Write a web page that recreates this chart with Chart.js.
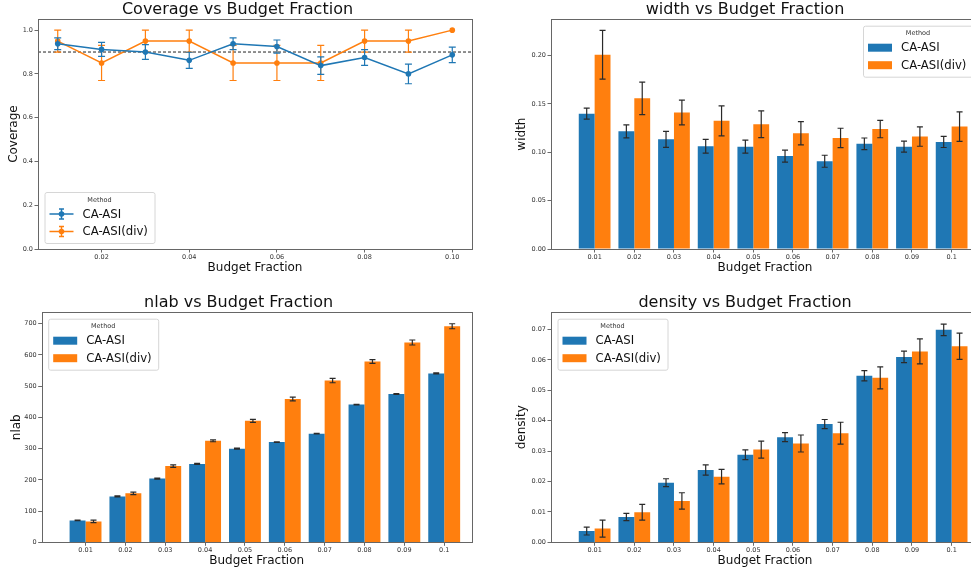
<!DOCTYPE html>
<html>
<head>
<meta charset="utf-8">
<script src="https://cdn.jsdelivr.net/npm/chart.js@4.4.0/dist/chart.umd.min.js"></script>
<style>
html, body { margin: 0; padding: 0; background: #fff; overflow: hidden; width: 971px; height: 573px; }
canvas { position: absolute; }
</style>
</head>
<body>
<canvas id="cov" width="485" height="286" style="left:0;top:0"></canvas>
<canvas id="wid" width="500" height="286" style="left:485px;top:0"></canvas>
<canvas id="nlab" width="485" height="287" style="left:0;top:286px"></canvas>
<canvas id="dens" width="500" height="287" style="left:485px;top:286px"></canvas>
<script>
// budget fractions (x) and their category labels
const fractions = [0.01, 0.02, 0.03, 0.04, 0.05, 0.06, 0.07, 0.08, 0.09, 0.10];
const fractionLabels = ['0.01', '0.02', '0.03', '0.04', '0.05', '0.06', '0.07', '0.08', '0.09', '0.1'];
const methods = ['CA-ASI', 'CA-ASI(div)'];
const colors = ['#1f77b4', '#ff7f0e'];

// coverage (mean, +/- error)
const coverageAsi    = [0.938, 0.912, 0.900, 0.862, 0.938, 0.925, 0.838, 0.875, 0.800, 0.887];
const coverageAsiErr = [0.027, 0.032, 0.034, 0.037, 0.027, 0.030, 0.040, 0.036, 0.045, 0.035];
const coverageDiv    = [0.95, 0.85, 0.95, 0.95, 0.85, 0.85, 0.85, 0.95, 0.95, 1.00];
const coverageDivErr = [0.05, 0.08, 0.05, 0.05, 0.08, 0.08, 0.08, 0.05, 0.05, 0.00];
const coverageTarget = 0.9;
const coverageXTicks = [0.02, 0.04, 0.06, 0.08, 0.10];
const coverageYTicks = [0, 0.2, 0.4, 0.6, 0.8, 1.0];

// width
const widthAsi    = [0.1399, 0.1216, 0.1133, 0.1062, 0.1058, 0.0960, 0.0907, 0.1087, 0.1058, 0.1107];
const widthAsiErr = [0.0057, 0.0067, 0.0083, 0.0072, 0.0067, 0.0062, 0.0062, 0.0060, 0.0057, 0.0058];
const widthDiv    = [0.2007, 0.1557, 0.1410, 0.1325, 0.1289, 0.1196, 0.1148, 0.1240, 0.1162, 0.1265];
const widthDivErr = [0.0252, 0.0168, 0.0128, 0.0155, 0.0138, 0.0120, 0.0100, 0.0090, 0.0100, 0.0152];
const widthYTicks = [0, 0.05, 0.10, 0.15, 0.20];

// nlab
const nlabAsi    = [70, 147, 204, 251, 300, 321, 348, 441, 475, 541];
const nlabAsiErr = [1, 1.5, 1.5, 1.5, 1.5, 1, 1, 1, 1, 1.5];
const nlabDiv    = [67, 157, 244, 325, 389, 459, 518, 579, 640, 692];
const nlabDivErr = [4, 4, 4, 3, 5, 6, 7, 6, 8, 8];
const nlabYTicks = [0, 100, 200, 300, 400, 500, 600, 700];

// density
const densityAsi    = [0.0037, 0.0083, 0.0196, 0.0238, 0.0288, 0.0346, 0.0389, 0.0548, 0.0610, 0.0699];
const densityAsiErr = [0.0013, 0.0012, 0.0013, 0.0017, 0.0016, 0.0015, 0.0015, 0.0017, 0.0019, 0.0019];
const densityDiv    = [0.0045, 0.0099, 0.0136, 0.0216, 0.0305, 0.0325, 0.0359, 0.0541, 0.0628, 0.0645];
const densityDivErr = [0.0028, 0.0026, 0.0027, 0.0024, 0.0028, 0.0028, 0.0036, 0.0036, 0.0041, 0.0043];
const densityYTicks = [0, 0.01, 0.02, 0.03, 0.04, 0.05, 0.06, 0.07];

const FONT = '"DejaVu Sans", sans-serif';
const tickFont = { family: FONT, size: 6.5 };
const axisFont = { family: FONT, size: 12 };
const titleFont = { family: FONT, size: 16, weight: 'normal' };

// error bars drawn through the y scale
const errorBars = {
    id: 'errorBars',
    afterDatasetDraw(chart, args) {
        const ds = chart.data.datasets[args.index];
        if (!ds.err) return;
        const ctx = chart.ctx, y = chart.scales.y;
        const cap = ds.capSize || 3;
        ctx.save();
        ctx.strokeStyle = ds.errColor || '#2a2a2a';
        ctx.lineWidth = 1.2;
        args.meta.data.forEach((el, i) => {
            const v = ds.data[i].y, e = ds.err[i];
            if (!e) return;
            const top = y.getPixelForValue(v + e), bot = y.getPixelForValue(v - e);
            ctx.beginPath();
            ctx.moveTo(el.x, top); ctx.lineTo(el.x, bot);
            ctx.moveTo(el.x - cap, top); ctx.lineTo(el.x + cap, top);
            ctx.moveTo(el.x - cap, bot); ctx.lineTo(el.x + cap, bot);
            ctx.stroke();
        });
        ctx.restore();
    }
};

// dashed target line + axes frame
const decor = {
    id: 'decor',
    beforeDatasetsDraw(chart, args, o) {
        if (o.refLine == null) return;
        const ctx = chart.ctx, a = chart.chartArea;
        const yy = chart.scales.y.getPixelForValue(o.refLine);
        ctx.save();
        ctx.strokeStyle = '#222'; ctx.lineWidth = 1; ctx.setLineDash([3, 2]);
        ctx.beginPath(); ctx.moveTo(a.left, yy); ctx.lineTo(a.right, yy); ctx.stroke();
        ctx.restore();
    },
    afterDraw(chart) {
        const ctx = chart.ctx, a = chart.chartArea;
        ctx.save();
        ctx.strokeStyle = '#666'; ctx.lineWidth = 1;
        ctx.strokeRect(Math.round(a.left) + 0.5, Math.round(a.top) + 0.5,
            Math.round(a.right - a.left), Math.round(a.bottom - a.top));
        ctx.restore();
    }
};

// matplotlib-like boxed legend inside the axes
const boxLegend = {
    id: 'boxLegend',
    afterDraw(chart, args, o) {
        const ctx = chart.ctx, a = chart.chartArea;
        const w = 110, h = 51;
        const x = o.corner.includes('right') ? a.right - 6 - w : a.left + 6.5;
        const y = o.corner.includes('lower') ? a.bottom - 6 - h : a.top + 6.5;
        ctx.save();
        ctx.fillStyle = 'rgba(255,255,255,0.85)';
        ctx.strokeStyle = '#d6d6d6';
        ctx.lineWidth = 1;
        ctx.beginPath();
        if (ctx.roundRect) ctx.roundRect(x + 0.5, y + 0.5, w, h, 2); else ctx.rect(x + 0.5, y + 0.5, w, h);
        ctx.fill(); ctx.stroke();
        ctx.fillStyle = '#333';
        ctx.font = '6.5px ' + FONT;
        ctx.textAlign = 'center'; ctx.textBaseline = 'middle';
        ctx.fillText('Method', x + w / 2, y + 8);
        chart.data.datasets.forEach((ds, i) => {
            const cy = y + 22 + i * 17.5;
            const c = ds.borderColor && o.kind === 'line' ? ds.borderColor : ds.backgroundColor;
            if (o.kind === 'bar') {
                ctx.fillStyle = c;
                ctx.fillRect(x + 5, cy - 4, 24, 8);
            } else {
                ctx.strokeStyle = c; ctx.lineWidth = 1.5;
                ctx.beginPath(); ctx.moveTo(x + 5, cy); ctx.lineTo(x + 29, cy);
                ctx.moveTo(x + 17, cy - 5); ctx.lineTo(x + 17, cy + 5);
                ctx.moveTo(x + 14.5, cy - 5); ctx.lineTo(x + 19.5, cy - 5);
                ctx.moveTo(x + 14.5, cy + 5); ctx.lineTo(x + 19.5, cy + 5);
                ctx.stroke();
                ctx.fillStyle = c;
                ctx.beginPath(); ctx.arc(x + 17, cy, 2.8, 0, Math.PI * 2); ctx.fill();
            }
            ctx.fillStyle = '#111';
            ctx.font = '11.7px ' + FONT;
            ctx.textAlign = 'left';
            ctx.fillText(ds.label, x + 38, cy + 0.5);
        });
        ctx.restore();
    }
};

const tickGrid = { display: true, offset: false, drawOnChartArea: false, drawTicks: true, tickLength: 3.5, color: '#444', lineWidth: 0.8 };

function yScale(ticks, max, digits, text, width) {
    return {
        type: 'linear', min: 0, max: max,
        afterBuildTicks: s => { s.ticks = ticks.map(v => ({ value: v })); },
        afterFit: s => { s.width = width; },
        ticks: { font: tickFont, color: '#333', padding: 1.5, callback: v => v.toFixed(digits) },
        grid: tickGrid,
        border: { display: false },
        title: { display: true, text: text, font: axisFont, color: '#111', padding: { top: 4, bottom: 4 } }
    };
}

function xScale(min, max, ticks, fmt, height) {
    return {
        type: 'linear', min: min, max: max, offset: false,
        afterBuildTicks: s => { s.ticks = ticks.map(v => ({ value: v })); },
        afterFit: s => { s.height = height; },
        ticks: { font: tickFont, color: '#333', padding: 1, maxRotation: 0, autoSkip: false, callback: fmt },
        grid: tickGrid,
        border: { display: false },
        title: { display: true, text: 'Budget Fraction', font: axisFont, color: '#111', padding: { top: 4, bottom: 4 } }
    };
}

function baseOptions(title, padding, x, y, legend) {
    return {
        responsive: false,
        animation: false,
        events: [],
        layout: { padding: padding },
        scales: { x: x, y: y },
        plugins: {
            legend: { display: false },
            tooltip: { enabled: false },
            title: { display: true, text: title, font: titleFont, color: '#111', padding: { top: 0, bottom: 0 } },
            boxLegend: legend,
            decor: {}
        }
    };
}

// ---- Coverage (line + error bars)
const covSeries = [[coverageAsi, coverageAsiErr], [coverageDiv, coverageDivErr]];
const covOpts = baseOptions('Coverage vs Budget Fraction',
    { top: 0, left: 3, right: 13, bottom: 6.5 },
    xScale(0.0055, 0.1045, coverageXTicks, v => v.toFixed(2), 30.5),
    yScale(coverageYTicks, 1.05, 1, 'Coverage', 35),
    { corner: 'lower left', kind: 'line' });
covOpts.plugins.decor = { refLine: coverageTarget };
new Chart(document.getElementById('cov'), {
    type: 'line',
    data: {
        datasets: covSeries.map((s, k) => ({
            label: methods[k],
            data: fractions.map((f, i) => ({ x: f, y: s[0][i] })),
            err: s[1],
            errColor: colors[k],
            capSize: 3.5,
            borderColor: colors[k],
            backgroundColor: colors[k],
            borderWidth: 1.5,
            pointRadius: 2.8,
            pointBorderWidth: 0,
            pointBackgroundColor: colors[k],
            tension: 0
        }))
    },
    options: covOpts,
    plugins: [decor, errorBars, boxLegend]
});

// ---- grouped bar charts
function barChart(id, title, pads, xHeight, yWidth, yTicks, yMax, digits, yText, series, corner) {
    const opts = baseOptions(title, pads,
        xScale(-1.1, 9.69, fractions.map((_, i) => i), v => fractionLabels[v], xHeight),
        yScale(yTicks, yMax, digits, yText, yWidth),
        { corner: corner, kind: 'bar' });
    new Chart(document.getElementById(id), {
        type: 'bar',
        data: {
            datasets: series.map((s, k) => ({
                label: methods[k],
                data: s[0].map((v, i) => ({ x: i, y: v })),
                err: s[1],
                capSize: 3,
                backgroundColor: colors[k],
                borderWidth: 0,
                barPercentage: 1,
                categoryPercentage: 0.8
            }))
        },
        options: opts,
        plugins: [decor, errorBars, boxLegend]
    });
}

barChart('wid', 'width vs Budget Fraction', { top: 0, left: 26, right: 6, bottom: 6.5 }, 30.5, 40,
    widthYTicks, 0.2375, 2, 'width', [[widthAsi, widthAsiErr], [widthDiv, widthDivErr]], 'upper right');
barChart('nlab', 'nlab vs Budget Fraction', { top: 7, left: 5.5, right: 13.3, bottom: 0.5 }, 30.2, 36.2,
    nlabYTicks, 737, 0, 'nlab', [[nlabAsi, nlabAsiErr], [nlabDiv, nlabDivErr]], 'upper left');
barChart('dens', 'density vs Budget Fraction', { top: 7, left: 26, right: 6, bottom: 0.5 }, 30.2, 40,
    densityYTicks, 0.0757, 2, 'density', [[densityAsi, densityAsiErr], [densityDiv, densityDivErr]], 'upper left');
</script>
</body>
</html>
